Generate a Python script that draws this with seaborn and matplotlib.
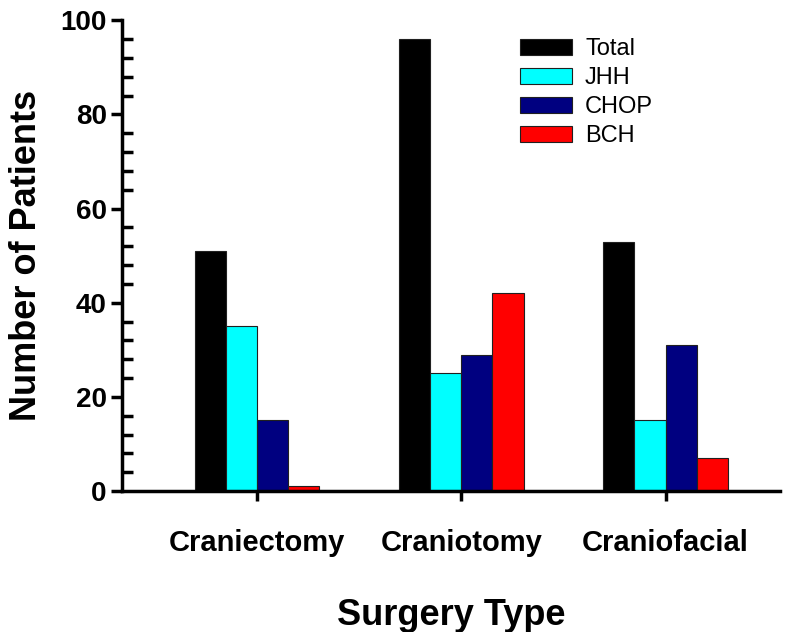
"""Patients per surgery type, split by centre."""

import matplotlib.pyplot as plt
import pandas as pd
import seaborn as sns
from matplotlib.ticker import MultipleLocator

SURGERY_TYPES = ["Craniectomy", "Craniotomy", "Craniofacial"]
GROUPS = ["Total", "JHH", "CHOP", "BCH"]
TOTAL = [51, 96, 53]
JHH = [35, 25, 15]
CHOP = [15, 29, 31]
BCH = [1, 42, 7]
COLORS = ["#000000", "#00FFFF", "#000080", "#FF0000"]

sns.set_style("white", {"text.color": "black", "axes.labelcolor": "black",
                        "xtick.color": "black", "ytick.color": "black",
                        "axes.edgecolor": "black"})
plt.rcParams["font.family"] = ["Liberation Sans", "DejaVu Sans"]

data = pd.DataFrame({
    "surgery": SURGERY_TYPES * 4,
    "group": [g for g in GROUPS for _ in SURGERY_TYPES],
    "patients": TOTAL + JHH + CHOP + BCH,
})

fig = plt.figure(figsize=(8, 6.32), dpi=100)
ax = fig.add_axes([0.1525, 0.223, 0.8225, 0.745])

sns.barplot(
    data=data,
    x="surgery",
    y="patients",
    hue="group",
    order=SURGERY_TYPES,
    hue_order=GROUPS,
    palette=COLORS,
    width=0.61,
    edgecolor="#202020",
    linewidth=0.8,
    saturation=1,
    errorbar=None,
    ax=ax,
)

ax.set_xlim(-0.66, 2.56)
ax.set_ylim(0, 100)
ax.yaxis.set_major_locator(MultipleLocator(20))
ax.yaxis.set_minor_locator(MultipleLocator(4))
ax.tick_params(axis="y", which="major", direction="out", length=8, width=2.5,
               labelsize=20, pad=3, left=True)
ax.tick_params(axis="y", which="minor", direction="in", length=8, width=2.5, left=True)
ax.tick_params(axis="x", which="major", direction="out", length=7, width=2.5,
               labelsize=21, pad=20, bottom=True)
for label in ax.get_xticklabels() + ax.get_yticklabels():
    label.set_fontweight("bold")

sns.despine(ax=ax)
ax.spines["left"].set_linewidth(2.5)
ax.spines["bottom"].set_linewidth(2.5)

ax.set_xlabel("Surgery Type", fontsize=26, fontweight="bold", labelpad=30)
ax.set_ylabel("Number of Patients", fontsize=26, fontweight="bold", labelpad=12)

ax.legend(
    title=None,
    frameon=False,
    loc="upper left",
    bbox_to_anchor=(0.605, 0.962),
    borderaxespad=0,
    borderpad=0,
    fontsize=17,
    handlelength=2.2,
    handleheight=0.65,
    labelspacing=0.3,
    handletextpad=0.55,
)

fig.savefig("out.png", dpi=100)
